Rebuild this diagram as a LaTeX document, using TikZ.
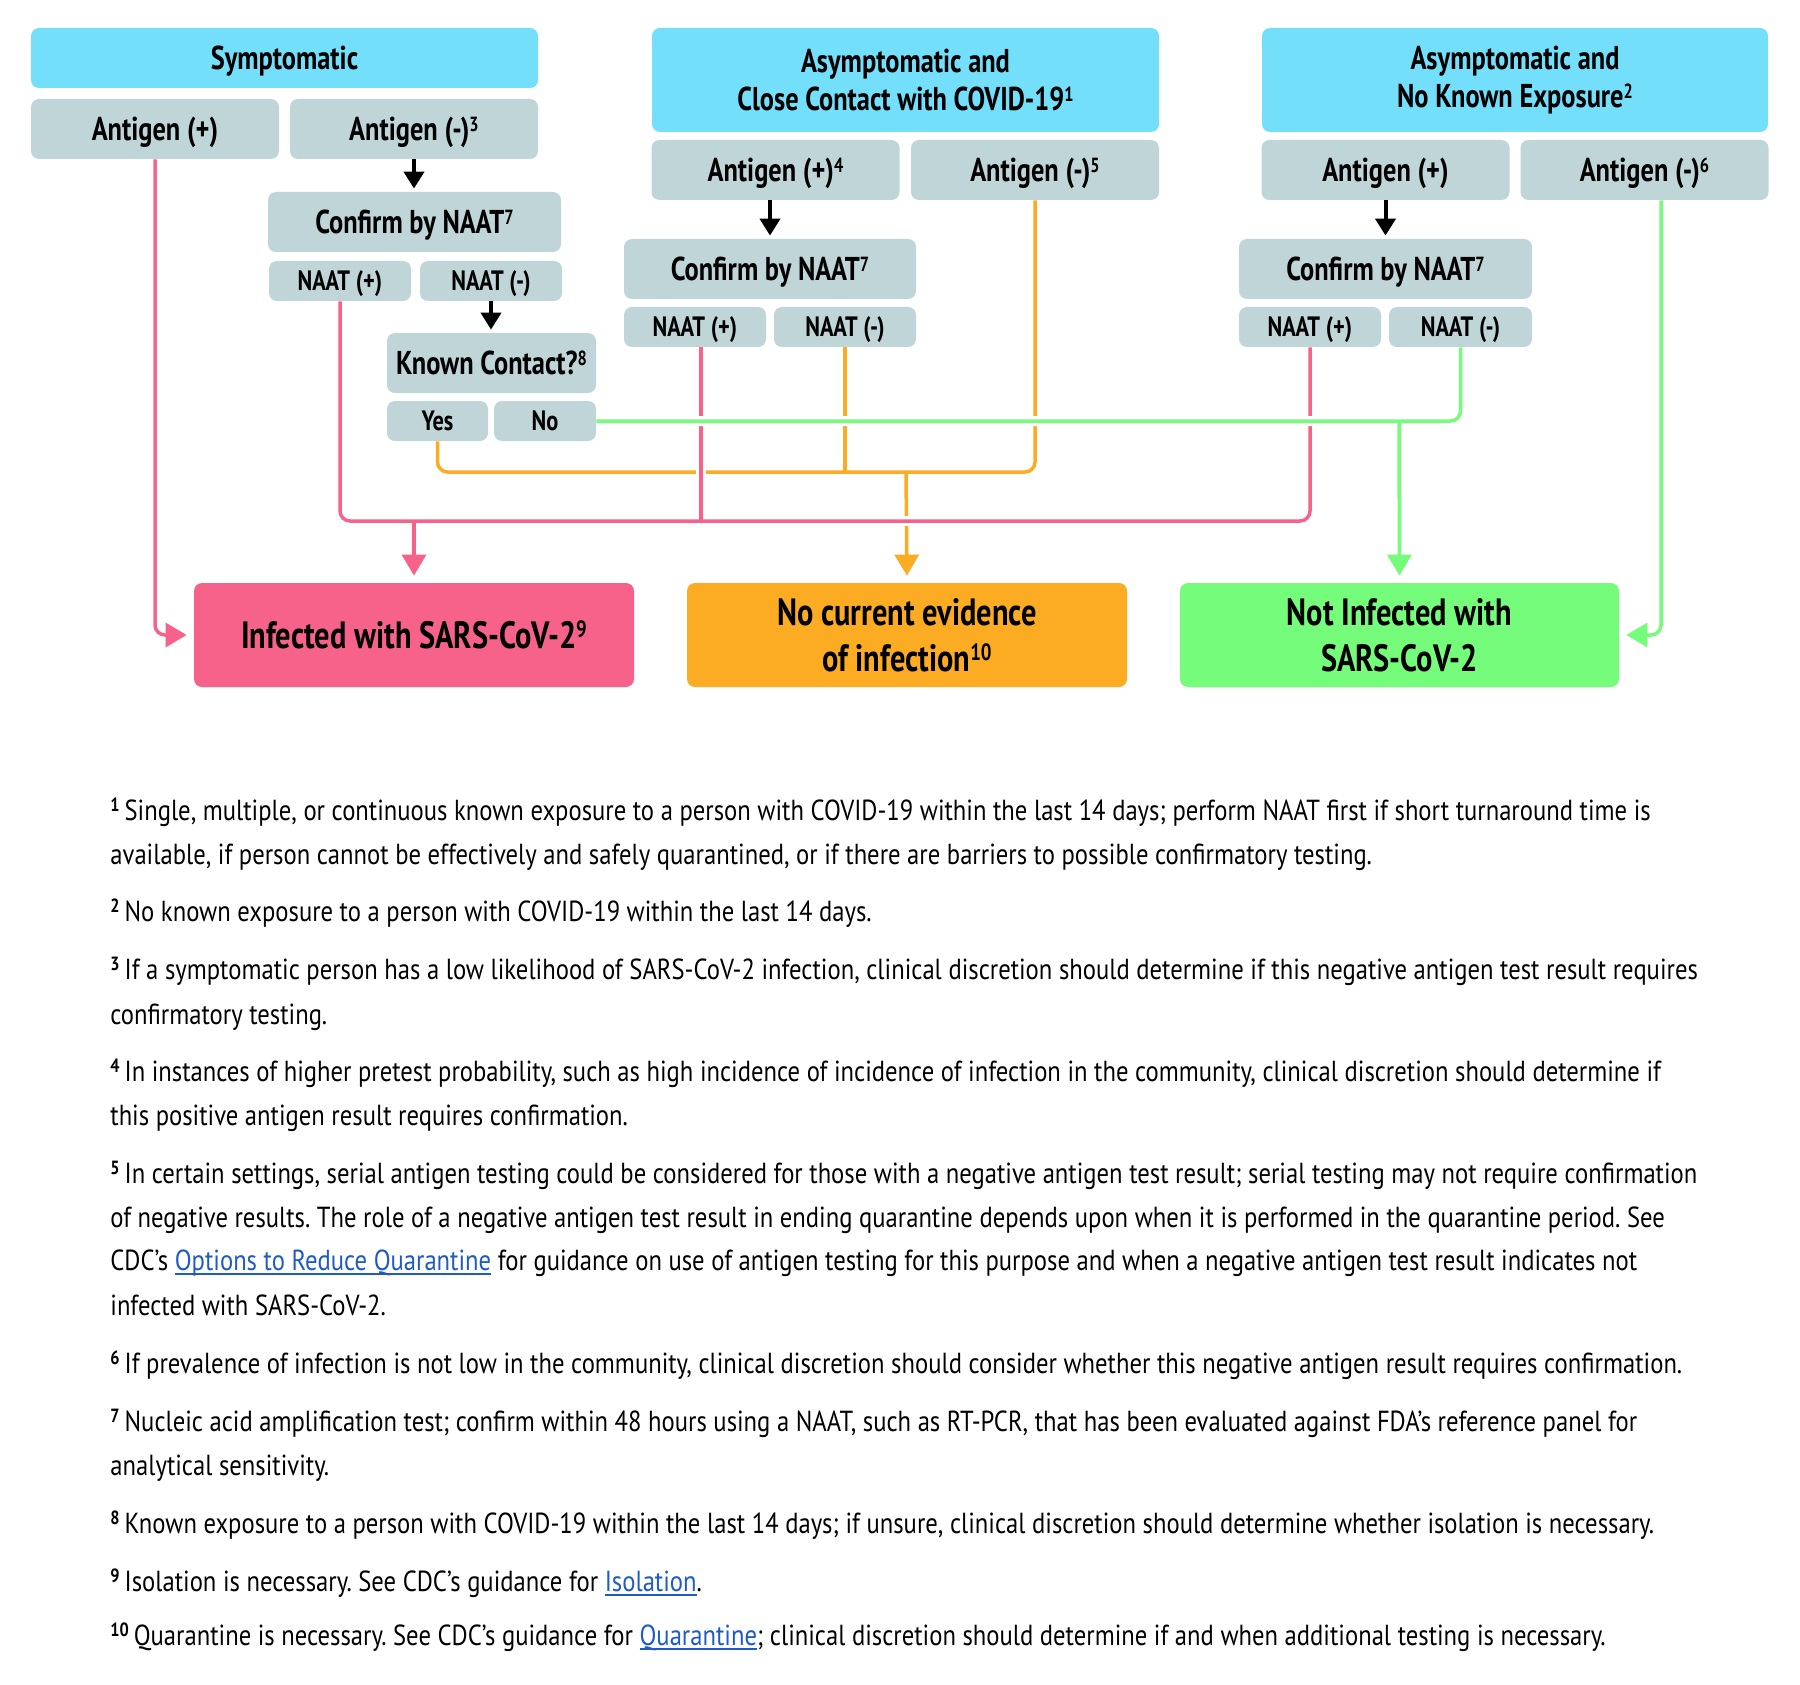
\documentclass[tikz,border=0pt]{standalone}
\usepackage{fontspec}
\usepackage{graphicx}
\setmainfont{PT Sans}[FakeStretch=0.80]
\newfontfamily\fnfont{PT Sans}[FakeStretch=0.85]
\usetikzlibrary{arrows.meta}
\frenchspacing
\definecolor{hdr}{RGB}{115,223,251}
\definecolor{gbox}{RGB}{191,213,216}
\definecolor{pnk}{RGB}{247,98,138}
\definecolor{org}{RGB}{251,172,35}
\definecolor{grn}{RGB}{116,252,122}
\definecolor{lnkc}{RGB}{30,91,198}
\newcommand\sps[1]{\raisebox{0.28em}{\scalebox{0.62}{#1}}}
\newcommand\fnm[1]{\raisebox{0.3em}{\scalebox{0.66}{\bfseries #1}}\hspace{2.5pt}}
\newcommand\lnk[1]{\textcolor{lnkc}{\setbox0\hbox{#1}\rlap{\rule[-2.4pt]{\wd0}{0.7pt}}\box0}}
\begin{document}
\begin{tikzpicture}[x=0.5pt,y=-0.5pt,
  box/.style={rectangle, rounded corners=4pt, inner sep=0pt, align=center, text=black,
    font=\bfseries\fontsize{16.5pt}{19pt}\selectfont},
  hbox/.style={box, fill=hdr},
  gbx/.style={box, fill=gbox, text depth=0pt},
  sbx/.style={box, fill=gbox, text depth=0pt, font=\bfseries\fontsize{14pt}{16pt}\selectfont},
  obx/.style={box, font=\bfseries\fontsize{19pt}{23pt}\selectfont, minimum width=220pt, minimum height=52pt},
  blk/.style={line width=2pt, -{Triangle[width=10pt,length=8.5pt]}, shorten >=1.5pt},
  lnp/.style={line width=1.75pt, rounded corners=5pt},
  tipc/.style={-{Triangle[width=12pt,length=10.5pt]}, shorten >=3.5pt},
  halo/.style={line width=5pt, draw=white},
  fn/.style={anchor=base west, inner sep=0pt, font=\fnfont\fontsize{14.5pt}{16pt}\selectfont, text=black}
]
\fill[white] (0,0) rectangle (1800,1685);
\useasboundingbox (0,0) rectangle (1800,1685);

% ---- Symptomatic column
\node[hbox, text depth=0pt, minimum width=253.5pt, minimum height=30pt] (hS) at (284.5,58) {Symptomatic};
\node[gbx, minimum width=124pt, minimum height=30pt] (aSp) at (155,129) {Antigen (+)};
\node[gbx, minimum width=124pt, minimum height=30pt] (aSn) at (414,129) {Antigen (-)\sps{3}};
\node[gbx, minimum width=146.5pt, minimum height=30pt] (cS) at (414.5,222) {Confirm by NAAT\sps{7}};
\node[sbx, minimum width=71pt, minimum height=20pt] (nSp) at (340,281) {NAAT (+)};
\node[sbx, minimum width=71pt, minimum height=20pt] (nSn) at (491,281) {NAAT (-)};
\node[gbx, minimum width=104.5pt, minimum height=30pt] (kc) at (491.5,363) {Known Contact?\sps{8}};
\node[sbx, minimum width=50.5pt, minimum height=20pt] (yes) at (437.5,421) {Yes};
\node[sbx, minimum width=51pt, minimum height=20pt] (no) at (545,421) {No};

% ---- Close contact column
\node[hbox, minimum width=253.5pt, minimum height=52pt] (hC) at (905.5,80) {Asymptomatic and\\Close Contact with COVID-19\sps{1}};
\node[gbx, minimum width=124pt, minimum height=30pt] (aCp) at (775.5,170) {Antigen (+)\sps{4}};
\node[gbx, minimum width=124pt, minimum height=30pt] (aCn) at (1035,170) {Antigen (-)\sps{5}};
\node[gbx, minimum width=146pt, minimum height=30pt] (cC) at (770,269) {Confirm by NAAT\sps{7}};
\node[sbx, minimum width=71pt, minimum height=20pt] (nCp) at (695,327) {NAAT (+)};
\node[sbx, minimum width=71pt, minimum height=20pt] (nCn) at (845,327) {NAAT (-)};

% ---- No known exposure column
\node[hbox, minimum width=253pt, minimum height=52pt] (hN) at (1515,80) {Asymptomatic and\\No Known Exposure\sps{2}};
\node[gbx, minimum width=124pt, minimum height=30pt] (aNp) at (1385.5,170) {Antigen (+)};
\node[gbx, minimum width=124pt, minimum height=30pt] (aNn) at (1644.5,170) {Antigen (-)\sps{6}};
\node[gbx, minimum width=146.5pt, minimum height=30pt] (cN) at (1385.5,269) {Confirm by NAAT\sps{7}};
\node[sbx, minimum width=71pt, minimum height=20pt] (nNp) at (1310,327) {NAAT (+)};
\node[sbx, minimum width=71.5pt, minimum height=20pt] (nNn) at (1460.5,327) {NAAT (-)};

% ---- Outcomes
\node[obx, fill=pnk] (inf) at (414,635) {Infected with SARS-CoV-2\sps{9}};
\node[obx, fill=org] (nce) at (907,635) {No current evidence\\of infection\sps{10}};
\node[obx, fill=grn, minimum width=219.5pt] (ni) at (1399.5,635) {Not Infected with\\SARS-CoV-2};

% ---- black arrows
\draw[blk] (aSn.south) -- (aSn.south |- cS.north);
\draw[blk] (nSn.south) -- (nSn.south |- kc.north);
\draw[blk] (cC.north |- aCp.south) -- (cC.north);
\draw[blk] (aNp.south) -- (aNp.south |- cN.north);

% ---- junction coordinates
\coordinate (oj) at (906,472);
\coordinate (pj) at (414,521);
\coordinate (gj) at (1399,421);
\coordinate (pm) at ([xshift=3pt]nCp.south);
\coordinate (gr) at ([xshift=8.25pt]aNn.south);

% ---- orange paths
\draw[lnp, org] (yes.south) |- (aCn.south |- oj) -- (aCn.south);
\draw[lnp, org] (nCn.south) -- (nCn.south |- oj);
\draw[lnp, org, tipc] (oj) -- (nce.north);

% ---- pink paths (with white halo)
\draw[halo] (nSp.south) |- (nNp.south |- pj) -- (nNp.south);
\draw[halo] (pm) -- (pm |- pj);
\draw[lnp, pnk] (nSp.south) |- (nNp.south |- pj) -- (nNp.south);
\draw[lnp, pnk] (pm) -- (pm |- pj);
\draw[lnp, pnk, tipc] (pj) -- (inf.north);
\draw[lnp, pnk, tipc] (aSp.south) |- (inf.west);

% ---- green paths (with white halo)
\draw[halo, rounded corners=5pt] (no.east) -| (nNn.south);
\draw[lnp, grn] (no.east) -| (nNn.south);
\draw[lnp, grn, tipc] (gj) -- (ni.north);
\draw[lnp, grn, tipc] (gr) |- (ni.east);

% ---- footnotes
\node[fn] (f1a) at (110,820) {\fnm{1}Single, multiple, or continuous known exposure to a person with COVID-19 within the last 14 days; perform NAAT first if short turnaround time is};
\node[fn] (f1b) at (110,864) {available, if person cannot be effectively and safely quarantined, or if there are barriers to possible confirmatory testing.};
\node[fn] (f2a) at (110,921) {\fnm{2}No known exposure to a person with COVID-19 within the last 14 days.};
\node[fn] (f3a) at (110,979) {\fnm{3}If a symptomatic person has a low likelihood of SARS-CoV-2 infection, clinical discretion should determine if this negative antigen test result requires};
\node[fn] (f3b) at (110,1024) {confirmatory testing.};
\node[fn] (f4a) at (110,1081) {\fnm{4}In instances of higher pretest probability, such as high incidence of incidence of infection in the community, clinical discretion should determine if};
\node[fn] (f4b) at (110,1125) {this positive antigen result requires confirmation.};
\node[fn] (f5a) at (110,1183) {\fnm{5}In certain settings, serial antigen testing could be considered for those with a negative antigen test result; serial testing may not require confirmation};
\node[fn] (f5b) at (110,1227) {of negative results. The role of a negative antigen test result in ending quarantine depends upon when it is performed in the quarantine period. See};
\node[fn] (f5c) at (110,1270) {CDC’s \lnk{Options to Reduce Quarantine} for guidance on use of antigen testing for this purpose and when a negative antigen test result indicates not};
\node[fn] (f5d) at (110,1315) {infected with SARS-CoV-2.};
\node[fn] (f6a) at (110,1373) {\fnm{6}If prevalence of infection is not low in the community, clinical discretion should consider whether this negative antigen result requires confirmation.};
\node[fn] (f7a) at (110,1431) {\fnm{7}Nucleic acid amplification test; confirm within 48 hours using a NAAT, such as RT-PCR, that has been evaluated against FDA’s reference panel for};
\node[fn] (f7b) at (110,1475) {analytical sensitivity.};
\node[fn] (f8a) at (110,1533) {\fnm{8}Known exposure to a person with COVID-19 within the last 14 days; if unsure, clinical discretion should determine whether isolation is necessary.};
\node[fn] (f9a) at (110,1591) {\fnm{9}Isolation is necessary. See CDC’s guidance for \lnk{Isolation}.};
\node[fn] (f10a) at (110,1645) {\fnm{10}Quarantine is necessary. See CDC’s guidance for \lnk{Quarantine}; clinical discretion should determine if and when additional testing is necessary.};
\end{tikzpicture}
\end{document}
